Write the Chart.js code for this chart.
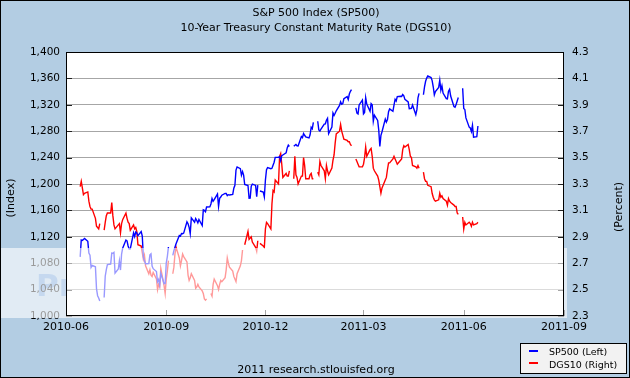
<!DOCTYPE html>
<html>
<head>
<meta charset="utf-8">
<script src="https://cdn.jsdelivr.net/npm/chart.js@4.4.1/dist/chart.umd.min.js"></script>
<style>
html, body { margin: 0; padding: 0; background: #b3cde3; }
#grafico { display: block; }
</style>
</head>
<body>
<canvas id="grafico" width="630" height="378"></canvas>
<script>
// Mondays of each week; each row in the value arrays is Mon..Fri of that week (null = holiday)
const segundas = [
    '2010-06-14','2010-06-21','2010-06-28','2010-07-05','2010-07-12','2010-07-19','2010-07-26',
    '2010-08-02','2010-08-09','2010-08-16','2010-08-23','2010-08-30','2010-09-06','2010-09-13',
    '2010-09-20','2010-09-27','2010-10-04','2010-10-11','2010-10-18','2010-10-25','2010-11-01',
    '2010-11-08','2010-11-15','2010-11-22','2010-11-29','2010-12-06','2010-12-13','2010-12-20',
    '2010-12-27','2011-01-03','2011-01-10','2011-01-17','2011-01-24','2011-01-31','2011-02-07',
    '2011-02-14','2011-02-21','2011-02-28','2011-03-07','2011-03-14','2011-03-21','2011-03-28',
    '2011-04-04','2011-04-11','2011-04-18','2011-04-25','2011-05-02','2011-05-09','2011-05-16',
    '2011-05-23','2011-05-30','2011-06-06','2011-06-13'
];

const sp500 = [
    [1089.63, 1115.23, 1114.61, 1116.04, 1117.51],
    [1113.20, 1095.31, 1092.04, 1073.69, 1076.76],
    [1074.57, 1041.24, 1030.71, 1027.37, 1022.58],
    [null, 1028.06, 1060.27, 1070.25, 1077.96],
    [1078.75, 1095.34, 1095.17, 1096.48, 1064.88],
    [1071.25, 1083.48, 1069.59, 1093.67, 1102.66],
    [1115.01, 1113.84, 1106.13, 1101.53, 1101.60],
    [1125.86, 1120.46, 1127.24, 1125.81, 1121.64],
    [1127.79, 1121.06, 1089.47, 1083.61, 1079.25],
    [1079.38, 1092.54, 1094.16, 1075.63, 1071.69],
    [1067.36, 1051.87, 1055.33, 1047.22, 1064.59],
    [1048.92, 1049.33, 1080.29, 1090.10, 1104.51],
    [null, 1091.84, 1098.87, 1104.18, 1109.55],
    [1121.90, 1121.10, 1125.07, 1124.66, 1125.59],
    [1142.71, 1139.78, 1134.28, 1124.83, 1148.67],
    [1142.16, 1147.70, 1144.73, 1141.20, 1146.24],
    [1137.03, 1160.75, 1159.97, 1158.06, 1165.15],
    [1165.32, 1169.77, 1178.10, 1173.81, 1176.19],
    [1184.71, 1165.90, 1178.17, 1180.26, 1183.08],
    [1185.62, 1185.64, 1182.45, 1183.78, 1183.26],
    [1184.38, 1193.57, 1197.96, 1221.06, 1225.85],
    [1223.25, 1213.40, 1218.71, 1213.54, 1199.21],
    [1197.75, 1178.34, 1178.59, 1196.69, 1199.73],
    [1197.84, 1180.73, 1198.35, null, 1189.40],
    [1187.76, 1180.55, 1206.07, 1221.53, 1224.71],
    [1223.12, 1223.75, 1228.28, 1233.00, 1240.40],
    [1240.46, 1241.59, 1235.23, 1242.87, 1243.91],
    [1247.08, 1254.60, 1258.84, 1256.77, null],
    [1257.54, 1258.51, 1259.78, 1257.88, 1257.64],
    [1271.87, 1270.20, 1276.56, 1273.85, 1271.50],
    [1269.75, 1274.48, 1285.96, 1283.76, 1293.24],
    [null, 1295.02, 1281.92, 1280.26, 1283.35],
    [1290.84, 1291.18, 1296.63, 1299.54, 1276.34],
    [1286.12, 1307.59, 1304.03, 1307.10, 1310.87],
    [1319.05, 1324.57, 1320.88, 1321.87, 1329.15],
    [1332.32, 1328.01, 1336.32, 1340.43, 1343.01],
    [null, 1315.44, 1307.40, 1306.10, 1319.88],
    [1327.22, 1306.33, 1308.44, 1330.97, 1321.15],
    [1310.13, 1321.82, 1320.02, 1295.11, 1304.28],
    [1296.39, 1281.87, 1256.88, 1273.72, 1279.21],
    [1298.38, 1293.77, 1297.54, 1309.66, 1313.80],
    [1310.19, 1319.44, 1328.26, 1325.83, 1332.41],
    [1332.87, 1332.63, 1335.54, 1333.51, 1328.17],
    [1324.46, 1314.16, 1314.41, 1314.52, 1319.68],
    [1305.14, 1312.62, 1330.36, 1337.38, null],
    [1335.25, 1347.24, 1355.66, 1360.48, 1363.61],
    [1361.22, 1356.62, 1347.32, 1335.10, 1340.20],
    [1346.29, 1357.16, 1342.08, 1348.65, 1337.77],
    [1329.47, 1328.98, 1340.68, 1343.60, 1333.27],
    [1317.37, 1316.28, 1320.47, 1325.69, 1331.10],
    [null, 1345.20, 1314.55, 1312.94, 1300.16],
    [1286.17, 1284.94, 1279.56, 1289.00, 1270.98],
    [1271.83, 1287.87]
];

const dgs10 = [
    [3.28, 3.32, 3.27, 3.22, 3.23],
    [3.24, 3.17, 3.13, 3.11, 3.11],
    [3.04, 2.98, 2.97, 2.96, 3.00],
    [null, 2.95, 3.01, 3.06, 3.08],
    [3.08, 3.16, 3.06, 2.99, 2.96],
    [2.99, 3.00, 2.93, 3.00, 3.03],
    [3.08, 3.04, 3.01, 3.00, 2.95],
    [2.99, 2.96, 2.97, 2.94, 2.84],
    [2.83, 2.78, 2.73, 2.76, 2.68],
    [2.62, 2.65, 2.61, 2.60, 2.63],
    [2.58, 2.50, 2.54, 2.52, 2.66],
    [2.53, 2.47, 2.58, 2.64, 2.72],
    [null, 2.62, 2.67, 2.77, 2.82],
    [2.74, 2.68, 2.72, 2.77, 2.75],
    [2.71, 2.61, 2.57, 2.59, 2.62],
    [2.57, 2.51, 2.52, 2.54, 2.52],
    [2.49, 2.47, 2.43, 2.42, 2.43],
    [null, 2.47, 2.45, 2.54, 2.58],
    [2.53, 2.50, 2.54, 2.57, 2.56],
    [2.59, 2.65, 2.74, 2.70, 2.67],
    [2.64, 2.60, 2.58, 2.56, 2.62],
    [2.68, 2.72, 2.80, null, 2.84],
    [2.94, 2.88, 2.89, 2.90, 2.86],
    [2.82, 2.79, 2.87, null, 2.85],
    [2.83, 2.82, 2.96, 3.01, 3.00],
    [2.96, 3.15, 3.25, 3.24, 3.33],
    [3.30, 3.51, 3.53, 3.45, 3.35],
    [3.38, 3.36, 3.36, 3.40, null],
    [3.34, 3.51, 3.37, 3.35, 3.30],
    [3.36, 3.36, 3.50, 3.44, 3.34],
    [3.34, 3.37, 3.38, 3.34, 3.34],
    [null, 3.39, 3.37, 3.47, 3.44],
    [3.40, 3.34, 3.44, 3.40, 3.37],
    [3.42, 3.48, 3.52, 3.61, 3.68],
    [3.70, 3.75, 3.70, 3.67, 3.64],
    [3.63, 3.62, 3.62, 3.60, 3.59],
    [null, 3.49, 3.47, 3.45, 3.43],
    [3.43, 3.45, 3.50, 3.58, 3.51],
    [3.56, 3.57, 3.51, 3.42, 3.40],
    [3.36, 3.33, 3.28, 3.23, 3.27],
    [3.33, 3.35, 3.41, 3.46, 3.46],
    [3.49, 3.51, 3.49, 3.47, 3.45],
    [3.48, 3.49, 3.56, 3.59, 3.58],
    [3.60, 3.56, 3.51, 3.50, 3.44],
    [3.43, 3.42, 3.44, 3.42, null],
    [3.39, 3.34, 3.32, 3.32, 3.29],
    [3.28, 3.23, 3.20, 3.18, 3.17],
    [3.18, 3.23, 3.20, 3.21, 3.19],
    [3.17, 3.14, 3.19, 3.17, 3.16],
    [3.14, 3.13, 3.13, 3.08, 3.07],
    [null, 3.05, 2.96, 3.01, 2.99],
    [3.01, 3.00, 2.98, 3.01, 2.99],
    [3.00, 3.01]
];

const datasEixoX = ['2010-06-01', '2010-09-01', '2010-12-01', '2011-03-01', '2011-06-01', '2011-09-01'];
const rotulosEixoX = ['2010-06', '2010-09', '2010-12', '2011-03', '2011-06', '2011-09'];

const fonte = '"DejaVu Sans", Verdana, sans-serif';
const diaZero = Date.UTC(2010, 5, 1);

function dia(iso) {
    const [a, m, d] = iso.split('-').map(Number);
    return (Date.UTC(a, m - 1, d) - diaZero) / 86400000;
}

function montarPontos(linhas) {
    const pontos = [];
    linhas.forEach((linha, semana) => {
        const inicio = dia(segundas[semana]);
        linha.forEach((valor, i) => pontos.push({ x: inicio + i, y: valor }));
    });
    return pontos;
}

const decoracao = {
    id: 'decoracao',
    beforeDraw(chart) {
        const c = chart.ctx, a = chart.chartArea;
        c.save();
        c.fillStyle = '#b3cde3';
        c.fillRect(0, 0, 630, 378);
        c.fillStyle = '#6f9fd8';
        c.font = 'bold 31px ' + fonte;
        c.textBaseline = 'alphabetic';
        c.textAlign = 'left';
        c.fillText('Pr', 36, 296);
        c.fillStyle = '#ffffff';
        c.fillRect(a.left, a.top, a.right - a.left, a.bottom - a.top);
        c.restore();
    },
    afterDraw(chart) {
        const c = chart.ctx, a = chart.chartArea;
        const esq = chart.scales.y, xs = chart.scales.x;
        c.save();

        // short tick marks inside the plot
        c.strokeStyle = '#222';
        c.lineWidth = 1;
        c.beginPath();
        esq.ticks.forEach(t => {
            const y = Math.round(esq.getPixelForValue(t.value)) + 0.5;
            c.moveTo(a.left, y); c.lineTo(a.left + 6, y);
            c.moveTo(a.right - 6, y); c.lineTo(a.right, y);
        });
        xs.ticks.forEach(t => {
            const x = Math.round(xs.getPixelForValue(t.value)) + 0.5;
            c.moveTo(x, a.bottom); c.lineTo(x, a.bottom - 6);
        });
        c.stroke();

        // translucent watermark box at lower left
        c.fillStyle = 'rgba(255,255,255,0.6)';
        c.fillRect(0, 248, 567, 70);

        // plot frame
        c.strokeStyle = '#000';
        c.strokeRect(Math.round(a.left) + 0.5, Math.round(a.top) + 0.5,
            Math.round(a.right - a.left) - 1, Math.round(a.bottom - a.top) - 1);

        // titles
        c.fillStyle = '#000';
        c.textAlign = 'center';
        c.textBaseline = 'middle';
        c.font = '11px ' + fonte;
        c.fillText('S&P 500 Index (SP500)', 316, 13);
        c.fillText('10-Year Treasury Constant Maturity Rate (DGS10)', 316, 28);
        c.fillText('2011 research.stlouisfed.org', 316, 370);

        // axis titles
        c.save();
        c.translate(11, 198);
        c.rotate(-Math.PI / 2);
        c.fillText('(Index)', 0, 0);
        c.restore();
        c.save();
        c.translate(619, 207);
        c.rotate(-Math.PI / 2);
        c.fillText('(Percent)', 0, 0);
        c.restore();

        // legend
        c.fillStyle = '#f2f2f2';
        c.fillRect(520, 343, 107, 31);
        c.strokeStyle = '#000';
        c.strokeRect(520.5, 343.5, 106, 30);
        c.lineWidth = 2;
        c.strokeStyle = '#0000ff';
        c.beginPath(); c.moveTo(529, 351); c.lineTo(538, 351); c.stroke();
        c.strokeStyle = '#ff0000';
        c.beginPath(); c.moveTo(529, 363); c.lineTo(538, 363); c.stroke();
        c.fillStyle = '#000';
        c.textAlign = 'left';
        c.font = '9.5px ' + fonte;
        c.fillText('SP500 (Left)', 549, 353);
        c.fillText('DGS10 (Right)', 549, 366);

        // outer frame
        c.lineWidth = 1;
        c.strokeStyle = '#000';
        c.strokeRect(0.5, 0.5, 629, 377);
        c.restore();
    }
};

const grafico = new Chart(document.getElementById('grafico').getContext('2d'), {
    type: 'line',
    data: {
        datasets: [
            {
                label: 'SP500 (Left)',
                data: montarPontos(sp500),
                yAxisID: 'y',
                borderColor: '#0000ff',
                borderWidth: 1.4,
                pointRadius: 0,
                spanGaps: false,
                tension: 0,
            },
            {
                label: 'DGS10 (Right)',
                data: montarPontos(dgs10),
                yAxisID: 'y1',
                borderColor: '#ff0000',
                borderWidth: 1.4,
                pointRadius: 0,
                spanGaps: false,
                tension: 0,
            },
        ],
    },
    options: {
        responsive: false,
        animation: false,
        devicePixelRatio: 1,
        layout: { padding: { top: 52, left: 0, right: 0, bottom: 0 } },
        plugins: {
            legend: { display: false },
            title: { display: false },
            tooltip: { enabled: false },
        },
        scales: {
            x: {
                type: 'linear',
                min: 0,
                max: dia('2011-09-01'),
                afterBuildTicks: s => { s.ticks = datasEixoX.map(d => ({ value: dia(d) })); },
                afterFit: s => { s.height = 62; },
                grid: { display: false, drawTicks: false },
                border: { display: false },
                ticks: {
                    autoSkip: false,
                    maxRotation: 0,
                    padding: 5,
                    color: '#000',
                    font: { family: fonte, size: 11 },
                    callback: v => rotulosEixoX[datasEixoX.findIndex(d => dia(d) === v)],
                },
            },
            y: {
                position: 'left',
                min: 1000,
                max: 1400,
                afterFit: s => { s.width = 66; },
                grid: { color: '#a6a6a6', drawTicks: false },
                border: { display: false },
                ticks: {
                    stepSize: 40,
                    padding: 6,
                    color: '#000',
                    font: { family: fonte, size: 10.5 },
                    callback: v => v.toLocaleString('en-US'),
                },
            },
            y1: {
                position: 'right',
                min: 2.3,
                max: 4.3,
                afterFit: s => { s.width = 66; },
                grid: { display: false, drawTicks: false },
                border: { display: false },
                ticks: {
                    stepSize: 0.2,
                    padding: 8,
                    color: '#000',
                    font: { family: fonte, size: 10.5 },
                    callback: v => v.toFixed(1),
                },
            },
        },
    },
    plugins: [decoracao],
});
</script>
</body>
</html>
